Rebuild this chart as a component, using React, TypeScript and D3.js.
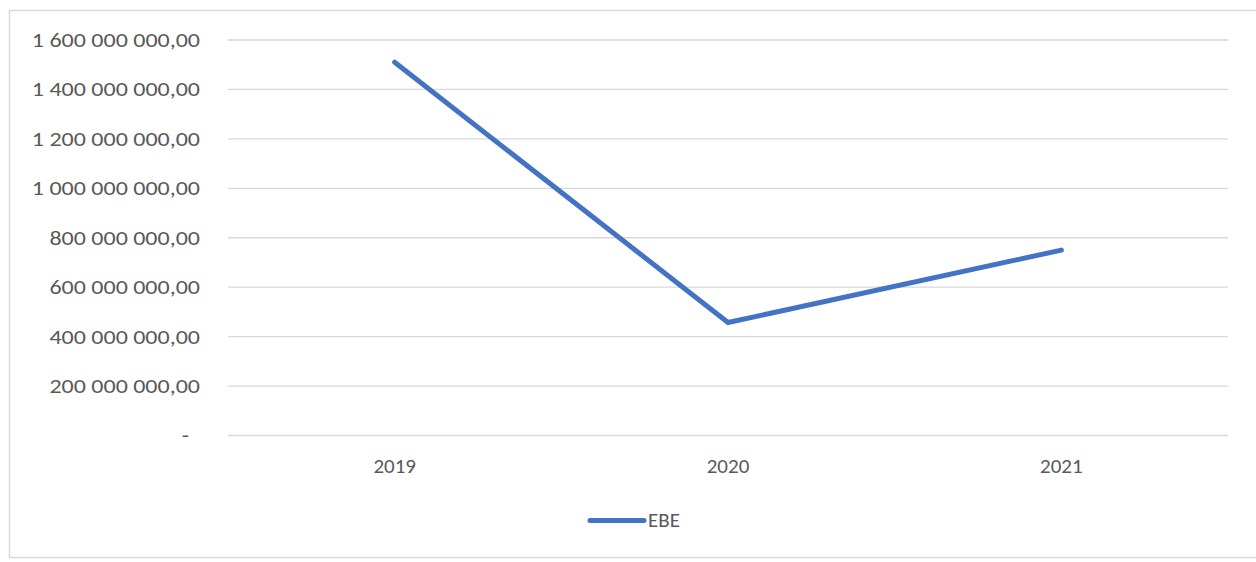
import { useEffect, useRef } from 'react';
import * as d3 from 'd3';

const years = ['2019', '2020', '2021'];
const ebe = [1510000000, 457000000, 750000000];
const yTicks = [0, 200000000, 400000000, 600000000, 800000000, 1000000000, 1200000000, 1400000000, 1600000000];
const seriesName = 'EBE';

const W = 1256;
const H = 562;

const fmt = (v: number) => {
  if (v === 0) return '-';
  const s = Math.round(v).toString().replace(/\B(?=(\d{3})+(?!\d))/g, ' ');
  return `${s},00`;
};

export default function App() {
  const svgRef = useRef<SVGSVGElement>(null);

  useEffect(() => {
    if (!svgRef.current) return;
    const svg = d3.select(svgRef.current);
    svg.selectAll('*').remove();

    const font = 'Carlito, "Open Sans", "Liberation Sans", sans-serif';
    const textColor = '#595959';
    const fs = 21;

    // chart frame
    svg.append('rect')
      .attr('x', 9.5).attr('y', 10.5)
      .attr('width', W + 10).attr('height', 547)
      .attr('fill', '#fff')
      .attr('stroke', '#d9d9d9')
      .attr('stroke-width', 1.5);

    const left = 228;
    const right = 1228;
    const top = 40;
    const bottom = 435.5;

    const x = d3.scalePoint<string>().domain(years).range([left, right]).padding(0.5);
    const y = d3.scaleLinear().domain([0, 1600000000]).range([bottom, top]);

    svg.append('g')
      .selectAll('line')
      .data(yTicks)
      .enter()
      .append('line')
      .attr('x1', left).attr('x2', right)
      .attr('y1', d => y(d)).attr('y2', d => y(d))
      .attr('stroke', '#d9d9d9')
      .attr('stroke-width', 1.3);

    // y labels look horizontally stretched in the reference
    svg.append('g')
      .selectAll('text')
      .data(yTicks)
      .enter()
      .append('text')
      .attr('transform', d => `translate(${d === 0 ? 189 : 200},${y(d) + 0.5}) scale(1.2,1)`)
      .attr('dy', '0.32em')
      .attr('text-anchor', 'end')
      .attr('font-family', font)
      .attr('font-size', 20)
      .attr('fill', textColor)
      .text(d => fmt(d));

    svg.append('g')
      .selectAll('text')
      .data(years)
      .enter()
      .append('text')
      .attr('x', d => x(d) as number)
      .attr('y', 466)
      .attr('dy', '0.32em')
      .attr('text-anchor', 'middle')
      .attr('font-family', font)
      .attr('font-size', fs)
      .attr('fill', textColor)
      .text(d => d);

    const line = d3.line<number>()
      .x((_, i) => x(years[i]) as number)
      .y(d => y(d));

    svg.append('path')
      .datum(ebe)
      .attr('d', line)
      .attr('fill', 'none')
      .attr('stroke', '#4472c4')
      .attr('stroke-width', 5)
      .attr('stroke-linecap', 'round')
      .attr('stroke-linejoin', 'round');

    // legend
    svg.append('line')
      .attr('x1', 590).attr('x2', 644)
      .attr('y1', 520.5).attr('y2', 520.5)
      .attr('stroke', '#4472c4')
      .attr('stroke-width', 5)
      .attr('stroke-linecap', 'round');

    svg.append('text')
      .attr('x', 648)
      .attr('y', 520.5)
      .attr('dy', '0.32em')
      .attr('font-family', font)
      .attr('font-size', fs)
      .attr('fill', textColor)
      .text(seriesName);
  }, []);

  return (
    <svg
      ref={svgRef}
      width={W}
      height={H}
      style={{ position: 'absolute', left: 0, top: 0, background: '#fff' }}
    />
  );
}
